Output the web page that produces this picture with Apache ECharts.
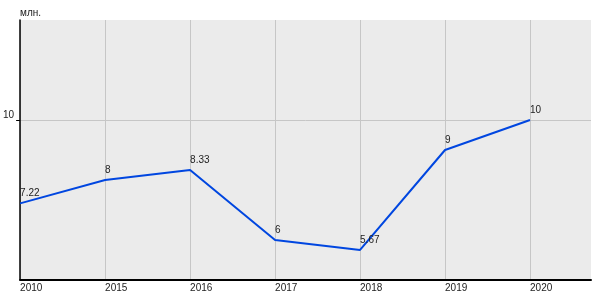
<!DOCTYPE html>
<html>
<head>
<meta charset="utf-8">
<script src="https://cdn.jsdelivr.net/npm/echarts@6/dist/echarts.min.js"></script>
<style>html,body{margin:0;padding:0;background:#fff}#c{width:600px;height:300px}</style>
</head>
<body>
<div id="c"></div>
<script>
const categories = ['2010', '2015', '2016', '2017', '2018', '2019', '2020'];
const values = [7.22, 8, 8.33, 6, 5.67, 9, 10];
const valueLabels = ['7.22', '8', '8.33', '6', '5.67', '9', '10'];
const yTicks = [10];
const unitLabel = 'млн.';

const FONT = '"Liberation Sans Narrow", "Liberation Sans", Arial, sans-serif';
const xIdx = categories.map((c, i) => i);
const chart = echarts.init(document.getElementById('c'), null, {renderer: 'canvas'});
chart.setOption({
  animation: false,
  textStyle: {fontFamily: FONT},
  grid: {left: 20, right: 9, top: 20, bottom: 20, show: true, backgroundColor: '#ebebeb', borderWidth: 0, containLabel: false},
  title: {text: unitLabel, left: 20, top: 8, padding: 0, textStyle: {fontSize: 10, fontWeight: 'normal', color: '#222', fontFamily: FONT}},
  xAxis: {
    type: 'value', min: 0, max: 6.7176, interval: 1,
    axisLine: {show: true, lineStyle: {color: '#000', width: 2}},
    axisTick: {show: false, customValues: xIdx},
    axisLabel: {customValues: xIdx, formatter: v => categories[v] || '', align: 'left', color: '#222', fontSize: 10, margin: 3, fontFamily: FONT},
    splitLine: {show: true, lineStyle: {color: '#c6c6c6', width: 1}}
  },
  yAxis: {
    type: 'value', min: 10 - 16/3, max: 10 + 10/3,
    axisLine: {show: true, lineStyle: {color: '#000', width: 1.5}},
    axisTick: {show: true, length: 4, customValues: yTicks, lineStyle: {color: '#000'}},
    axisLabel: {customValues: yTicks, color: '#222', fontSize: 10, margin: 6, verticalAlign: 'bottom', lineHeight: 10, fontFamily: FONT},
    splitLine: {show: true, lineStyle: {color: '#c6c6c6', width: 1}}
  },
  series: [{
    type: 'line',
    data: values.map((v, i) => [xIdx[i], v]),
    symbol: 'circle',
    symbolSize: 2,
    showSymbol: true,
    itemStyle: {color: 'rgba(0,0,0,0)', borderWidth: 0},
    lineStyle: {color: '#0046e0', width: 2},
    label: {show: true, position: 'top', align: 'left', distance: 4, color: '#222', fontSize: 10, fontFamily: FONT,
      formatter: p => valueLabels[p.dataIndex]}
  }]
});
</script>
</body>
</html>
